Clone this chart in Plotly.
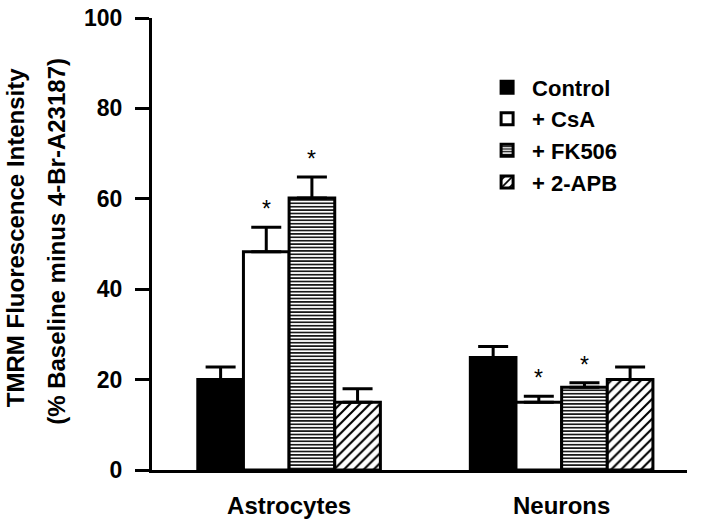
import plotly.graph_objects as go

groups = ["Astrocytes", "Neurons"]
series = ["Control", "+ CsA", "+ FK506", "+ 2-APB"]
means = {
    "Control": [20.0, 24.9],
    "+ CsA": [48.3, 15.0],
    "+ FK506": [60.2, 18.3],
    "+ 2-APB": [15.0, 20.0],
}
errors = {
    "Control": [2.8, 2.4],
    "+ CsA": [5.4, 1.3],
    "+ FK506": [4.6, 1.0],
    "+ 2-APB": [3.0, 2.8],
}
significant = {
    "Control": [False, False],
    "+ CsA": [True, True],
    "+ FK506": [True, True],
    "+ 2-APB": [False, False],
}
y_ticks = [0, 20, 40, 60, 80, 100]

FONT = "Liberation Sans, Arial, sans-serif"
styles = {
    "Control": dict(color="black", pattern=None),
    "+ CsA": dict(color="white", pattern=None),
    "+ FK506": dict(color="white", pattern=dict(shape="-", fgcolor="black", bgcolor="white",
                                                 size=3.4, solidity=0.45, fillmode="replace")),
    "+ 2-APB": dict(color="white", pattern=dict(shape="/", fgcolor="black", bgcolor="white",
                                                 size=7, solidity=0.3, fillmode="replace")),
}

BARGAP = 0.33
fig = go.Figure()
for name in series:
    st = styles[name]
    marker = dict(color=st["color"], line=dict(color="black", width=3))
    if st["pattern"]:
        marker["pattern"] = st["pattern"]
    fig.add_trace(go.Bar(
        name=name, x=groups, y=means[name],
        marker=marker,
        error_y=dict(type="data", symmetric=False, array=errors[name],
                     arrayminus=[0] * len(groups), color="black", thickness=3, width=15),
    ))

# asterisks above significant bars
bar_w = (1 - BARGAP) / len(series)
for i, name in enumerate(series):
    for g, grp in enumerate(groups):
        if significant[name][g]:
            fig.add_annotation(
                x=g + (i - (len(series) - 1) / 2) * bar_w, xref="x",
                y=means[name][g] + errors[name][g], yref="y",
                text="*", showarrow=False, yanchor="bottom", yshift=3,
                font=dict(family=FONT, size=23, color="black"),
            )

# y-axis title (two lines)
fig.add_annotation(text="TMRM Fluorescence Intensity", xref="paper", yref="paper",
                   x=-0.256, y=0.513, textangle=-90, showarrow=False,
                   xanchor="center", yanchor="middle",
                   font=dict(family=FONT, size=24, color="black", weight="bold"))
fig.add_annotation(text="(% Baseline minus 4-Br-A23187)", xref="paper", yref="paper",
                   x=-0.1776, y=0.507, textangle=-90, showarrow=False,
                   xanchor="center", yanchor="middle",
                   font=dict(family=FONT, size=24, color="black", weight="bold"))

fig.update_layout(
    width=701, height=523,
    margin=dict(l=152, r=14, t=18, b=53, autoexpand=False),
    paper_bgcolor="white", plot_bgcolor="white",
    barmode="group", bargap=BARGAP, bargroupgap=0,
    showlegend=True,
    legend=dict(x=0.617, y=0.893, xanchor="left", yanchor="top",
                font=dict(family=FONT, size=22, color="black", weight="bold"),
                bgcolor="rgba(0,0,0,0)", tracegroupgap=0, itemwidth=40),
    xaxis=dict(range=[-0.503, 1.46], showline=True, linecolor="black", linewidth=3,
               ticks="", showgrid=False, zeroline=False, ticklabelstandoff=12,
               automargin=False,
               tickfont=dict(family=FONT, size=24, color="black", weight="bold")),
    yaxis=dict(range=[0, 100], tickvals=y_ticks, showline=True, linecolor="black",
               linewidth=3, ticks="outside", ticklen=14, tickwidth=3, tickcolor="black",
               showgrid=False, zeroline=False, ticklabelstandoff=8, automargin=False,
               tickfont=dict(family=FONT, size=23, color="black", weight="bold")),
)

# remove the default 8px page margin so the figure fills the window exactly
fig.write_html("out.html", config={"displayModeBar": False},
               post_script="document.body.style.margin='0';document.body.style.padding='0';")
